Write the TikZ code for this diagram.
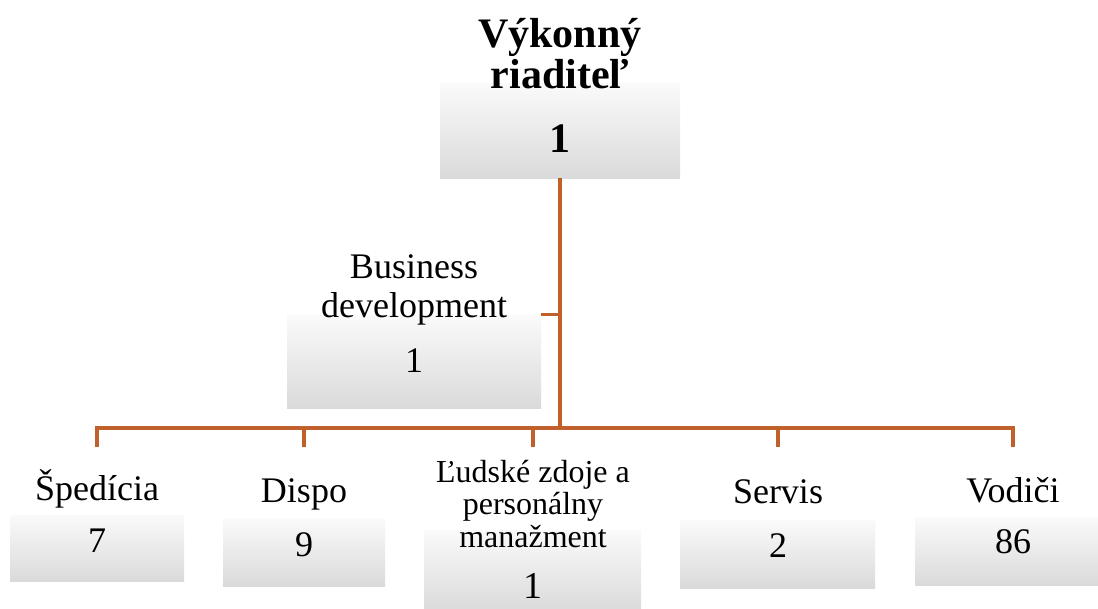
\documentclass[tikz,border=0pt]{standalone}
\usepackage{fontspec}
\setmainfont{Liberation Serif}
\definecolor{linec}{HTML}{C0602A}
\definecolor{boxtop}{HTML}{FAFAFA}
\definecolor{boxbot}{HTML}{DADADA}
\tikzset{
  box/.style={rectangle, draw=none, inner sep=0pt, top color=boxtop, bottom color=boxbot},
  conn/.style={draw=linec, line width=3.3pt},
  lbl/.style={anchor=base, inner sep=0pt, font=\fontsize{36}{39}\selectfont},
  boldlbl/.style={anchor=base, inner sep=0pt, font=\fontsize{42}{41}\selectfont\bfseries},
}
\newcommand{\mlines}[1]{\begin{tabular}[t]{@{}c@{}}#1\end{tabular}}
\begin{document}
\begin{tikzpicture}[x=1pt,y=-1pt]
\useasboundingbox (0,0) rectangle (1098,608);
% boxes
\node[box, minimum width=240pt, minimum height=95pt] (ceo) at (560,130.5) {};
\node[box, minimum width=254pt, minimum height=93pt] (biz) at (414,361.5) {};
\node[box, minimum width=174pt, minimum height=66pt] (b1) at (97,548) {};
\node[box, minimum width=162pt, minimum height=68pt] (b2) at (304,552) {};
\node[box, minimum width=217pt, minimum height=82pt] (b3) at (532.5,571) {};
\node[box, minimum width=195pt, minimum height=68pt] (b4) at (777.5,554) {};
\node[box, minimum width=187pt, minimum height=68pt] (b5) at (1008.5,551) {};
% connector points
\coordinate (bus) at (560,428);
\coordinate (c1) at (97,447);
\coordinate (c2) at (304,447);
\coordinate (c3) at (533,447);
\coordinate (c4) at (778,447);
\coordinate (c5) at (1013,447);
% connectors
\draw[conn] (ceo.south) -- (bus);
\draw[conn] (biz.north east) -- (biz.north east -| bus);
\foreach \c in {c1,c2,c3,c4,c5} { \draw[conn] (\c) |- (bus); }
% texts
\node[boldlbl] (ceot) at (560,47) {\mlines{Výkonný\\riaditeľ}};
\node[boldlbl] (ceon) at (560,152) {1};
\node[lbl] (bizt) at (414,278) {\mlines{Business\\development}};
\node[lbl] (bizn) at (414,372) {1};
\node[lbl] (t1) at (97,500) {Špedícia};
\node[lbl] (n1) at (97,552) {7};
\node[lbl] (t2) at (304,502) {Dispo};
\node[lbl] (n2) at (304,556) {9};
\node[lbl, font=\fontsize{32}{32.8}\selectfont] (t3) at (533,482) {\mlines{Ľudské zdoje a\\personálny\\manažment}};
\node[lbl, font=\fontsize{38}{40}\selectfont] (n3) at (533,598) {1};
\node[lbl] (t4) at (778,503) {Servis};
\node[lbl] (n4) at (778,557) {2};
\node[lbl] (t5) at (1013,502) {Vodiči};
\node[lbl] (n5) at (1013,553) {86};
\end{tikzpicture}
\end{document}
